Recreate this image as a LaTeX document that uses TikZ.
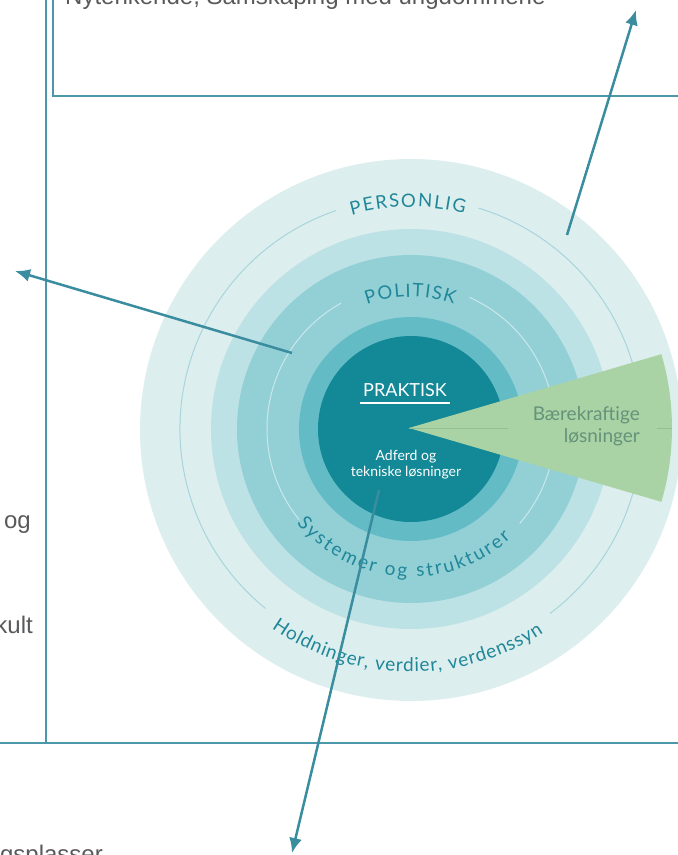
\documentclass[tikz,border=0pt]{standalone}
\usepackage{fontspec}
\setmainfont{Lato}
\newfontfamily\lato{Lato}
\newfontfamily\arialf{Liberation Sans}
\usetikzlibrary{arrows.meta,decorations.text}
\definecolor{ringA}{HTML}{DDEEEE}
\definecolor{ringB}{HTML}{BDE2E6}
\definecolor{ringC}{HTML}{93D0D6}
\definecolor{ringD}{HTML}{63BCC5}
\definecolor{core}{HTML}{138896}
\definecolor{wedgeg}{HTML}{A9D3A5}
\definecolor{wedgetxt}{HTML}{65937A}
\definecolor{wedgeline}{HTML}{93BF92}
\definecolor{arrowc}{HTML}{3A8C9F}
\definecolor{framec}{HTML}{4A98AA}
\definecolor{thinA}{HTML}{A8D5DC}
\definecolor{thinB}{HTML}{C9E8EB}
\definecolor{arctxt}{HTML}{1F8799}
\definecolor{graytxt}{HTML}{58595B}
\tikzset{
  framel/.style={draw=framec, line width=1.5pt},
  arrowl/.style={draw=arrowc, line width=2.5pt, -{Latex[length=15pt,width=13pt]}},
  sidetxt/.style={inner sep=0pt, text=graytxt, font=\arialf\fontsize{24}{28}\selectfont},
  arclbl/.style={decorate, decoration={text along path, text align=fit to path, text color=arctxt}},
}
\begin{document}
\begin{tikzpicture}[x=1pt,y=1pt]
\useasboundingbox (-411,-426) rectangle (267,429);
% rings
\fill[ringA] (0,-1) circle[radius=271];
\fill[ringB] (0,0) circle[radius=200];
\fill[ringC] (0,0) circle[radius=174];
\fill[ringD] (0,0) circle[radius=112];
\fill[core] (0,0) circle[radius=93];
% thin arcs
\draw[thinA, line width=1pt] (109:231) arc[start angle=109, end angle=231, radius=231];
\draw[thinA, line width=1pt] (-53:231) arc[start angle=-53, end angle=73, radius=231];
\draw[thinB, line width=1pt] (119:144) arc[start angle=119, end angle=219, radius=144];
\draw[thinB, line width=1pt] (-41:144) arc[start angle=-41, end angle=66, radius=144];
% wedge
\coordinate (c) at (-2,1);
\fill[wedgeg] (c) -- ++(-16.3:263) arc[start angle=-16.3, end angle=16.3, radius=263] -- cycle;
\coordinate (wl1) at (97,1);
\coordinate (wl2) at (246,1);
\coordinate (wl3) at (261,1);
\draw[wedgeline, line width=1pt] (c) -- (wl1);
\draw[wedgeline, line width=1pt] (wl2) -- (wl3);
\node[anchor=east, align=right, inner sep=0pt, text=wedgetxt, font=\lato\fontsize{19}{22}\selectfont] (baere) at (229,3) {Bærekraftige\\løsninger};
% core texts
\node[inner sep=0pt, text=white, font=\lato\fontsize{18}{20}\selectfont] (prak) at (-6,39) {PRAKTISK};
\coordinate (u1) at (-51,26);
\coordinate (u2) at (39,26);
\draw[white, line width=1.2pt] (u1) -- (u2);
\node[inner sep=0pt, align=center, text=white, font=\lato\fontsize{14}{16}\selectfont] (adf) at (-5,-36) {Adferd og\\tekniske løsninger};
% arc labels
\path[arclbl, decoration={text={|\lato\fontsize{18.5}{18.5}\selectfont|PERSONLIG}}] (105.5:222) arc[start angle=105.5, end angle=76, radius=222];
\path[arclbl, decoration={text={|\lato\fontsize{18.5}{18.5}\selectfont|POLITISK}}] (109.5:132) arc[start angle=109.5, end angle=71, radius=132];
\path[arclbl, decoration={text={|\lato\fontsize{19}{19}\selectfont|Systemer og strukturer}}] (219.5:148) arc[start angle=219.5, end angle=312.5, radius=148];
\path[arclbl, decoration={text={|\lato\fontsize{19}{19}\selectfont|Holdninger, verdier, verdenssyn}}] (235:243) arc[start angle=235, end angle=303, radius=243];
% frame
\coordinate (f1) at (-365,429);
\coordinate (f2) at (-365,-314);
\coordinate (f3) at (-411,-314);
\coordinate (f4) at (267,-314);
\coordinate (b1) at (-358,429);
\coordinate (b2) at (-358,333);
\coordinate (b3) at (267,333);
\draw[framel] (f1) -- (f2);
\draw[framel] (f3) -- (f4);
\draw[framel] (b1) -- (b2) -- (b3);
% side texts
\node[sidetxt, anchor=base west] (top) at (-346,424) {Nytenkende, Samskaping med ungdommene};
\node[sidetxt, anchor=base east] (og) at (-380,-99) {og};
\node[sidetxt, anchor=base east] (kult) at (-378,-204) {kult};
\node[sidetxt, anchor=base east] (ngs) at (-308,-433) {ngsplasser};
% arrows
\coordinate (a1s) at (-119,76);
\coordinate (a1e) at (-396,158);
\coordinate (a2s) at (156,194);
\coordinate (a2e) at (225,419);
\coordinate (a3s) at (-32,-61);
\coordinate (a3e) at (-119,-424);
\draw[arrowl] (a1s) -- (a1e);
\draw[arrowl] (a2s) -- (a2e);
\draw[arrowl] (a3s) -- (a3e);
\end{tikzpicture}
\end{document}
